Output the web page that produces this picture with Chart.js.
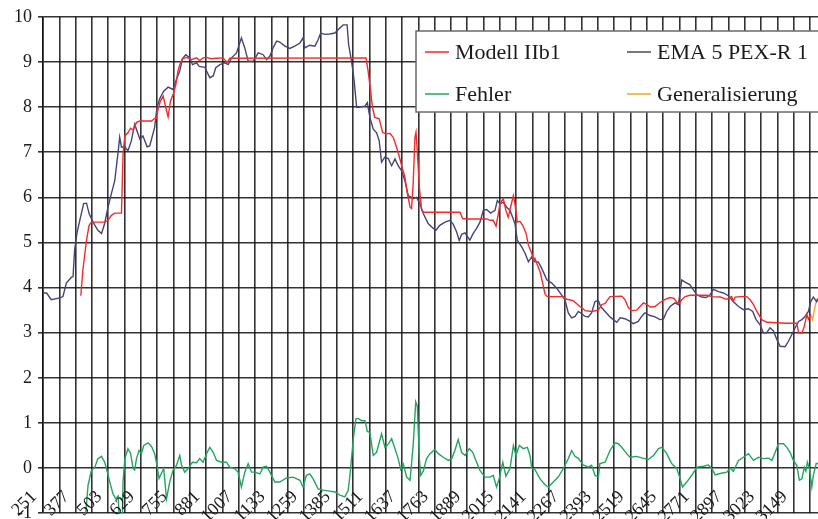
<!DOCTYPE html>
<html>
<head>
<meta charset="utf-8">
<script src="https://cdn.jsdelivr.net/npm/chart.js@4/dist/chart.umd.min.js"></script>
<style>
  html, body { margin: 0; padding: 0; background: #fff; overflow: hidden; }
  canvas { display: block; }
</style>
</head>
<body>
<canvas id="chart_ema" width="818" height="530"></canvas>
<script>
// Category labels on the x axis (every second grid line)
let xLabels = ['251', '377', '503', '629', '755', '881', '1007', '1133', '1259', '1385', '1511', '1637',
  '1763', '1889', '2015', '2141', '2267', '2393', '2519', '2645', '2771', '2897', '3023', '3149'];

// EMA 5 PEX-R 1
let emaX = [251, 265, 283, 316, 328, 341, 361, 367, 373, 382, 393, 399, 408, 419, 429, 444, 463, 477, 489, 502,
  515, 528, 541, 547, 554, 567, 579, 592, 605, 614, 625, 637, 653, 663, 682, 691, 702, 717, 734, 753,
  766, 779, 789, 802, 818, 828, 844, 854, 876, 895, 908, 918, 934, 953, 966, 979, 998, 1017, 1030, 1043,
  1062, 1082, 1101, 1114, 1127, 1139, 1153, 1165, 1185, 1204, 1223, 1243, 1255, 1262, 1281, 1301, 1313, 1323, 1339, 1358,
  1378, 1397, 1410, 1425, 1431, 1442, 1451, 1462, 1474, 1494, 1503, 1513, 1526, 1539, 1549, 1558, 1571, 1584, 1597, 1610,
  1622, 1635, 1648, 1661, 1680, 1693, 1706, 1719, 1738, 1758, 1768, 1783, 1803, 1822, 1835, 1848, 1858, 1867, 1880, 1899,
  1912, 1925, 1938, 1951, 1964, 1979, 1996, 2005, 2015, 2028, 2041, 2054, 2073, 2082, 2099, 2112, 2125, 2138, 2150, 2163,
  2176, 2196, 2215, 2234, 2253, 2266, 2279, 2292, 2305, 2318, 2331, 2344, 2356, 2369, 2382, 2395, 2404, 2421, 2440, 2466,
  2479, 2498, 2517, 2530, 2549, 2562, 2575, 2595, 2614, 2633, 2646, 2659, 2672, 2691, 2704, 2717, 2730, 2749, 2762, 2775,
  2794, 2811, 2826, 2839, 2859, 2878, 2897, 2916, 2936, 2955, 2974, 2991, 3004, 3019, 3032, 3045, 3058, 3071, 3084, 3097,
  3116, 3129, 3142, 3155, 3168, 3181, 3193, 3206, 3215, 3225, 3238, 3243];
let emaY = [3.88, 3.88, 3.73, 3.77, 3.80, 4.10, 4.23, 4.24, 4.83, 5.20, 5.49, 5.64, 5.86, 5.87, 5.64, 5.45, 5.27, 5.20, 5.42, 5.78,
  6.08, 6.37, 7.00, 7.33, 7.11, 7.12, 7.03, 7.25, 7.62, 7.47, 7.29, 7.36, 7.12, 7.14, 7.55, 7.99, 8.19, 8.35, 8.44, 8.39,
  8.61, 8.80, 9.07, 9.16, 9.09, 8.94, 8.98, 8.90, 8.88, 8.65, 8.69, 8.87, 8.94, 8.98, 8.94, 9.09, 9.20, 9.53, 9.31, 9.02,
  9.01, 9.20, 9.16, 9.05, 9.13, 9.31, 9.46, 9.44, 9.35, 9.30, 9.35, 9.42, 9.53, 9.31, 9.37, 9.35, 9.49, 9.64, 9.61, 9.62,
  9.64, 9.75, 9.82, 9.82, 9.38, 9.02, 8.65, 7.99, 8.00, 8.02, 8.10, 7.77, 7.51, 7.43, 7.25, 6.78, 6.89, 6.86, 6.70, 6.85,
  6.70, 6.59, 6.37, 6.04, 5.97, 6.00, 5.86, 5.64, 5.42, 5.31, 5.27, 5.38, 5.45, 5.49, 5.40, 5.23, 5.04, 5.18, 5.21, 5.05,
  5.20, 5.31, 5.45, 5.71, 5.73, 5.65, 5.71, 5.93, 5.86, 5.89, 5.78, 5.71, 5.42, 5.05, 4.90, 4.76, 4.57, 4.68, 4.57, 4.57,
  4.43, 4.17, 4.10, 3.99, 3.84, 3.73, 3.44, 3.33, 3.36, 3.47, 3.42, 3.36, 3.35, 3.44, 3.69, 3.71, 3.58, 3.47, 3.35, 3.23,
  3.33, 3.31, 3.25, 3.20, 3.25, 3.36, 3.44, 3.38, 3.35, 3.29, 3.30, 3.47, 3.58, 3.66, 3.62, 4.17, 4.12, 4.06, 3.95, 3.84,
  3.79, 3.78, 3.84, 3.96, 3.91, 3.88, 3.82, 3.69, 3.58, 3.51, 3.53, 3.47, 3.29, 3.18, 3.00, 3.00, 3.11, 3.04, 2.85, 2.70,
  2.69, 2.81, 2.96, 3.11, 3.25, 3.29, 3.36, 3.47, 3.69, 3.79, 3.69, 3.75];

// Modell IIb1
let modelX = [397, 405, 419, 429, 438, 489, 502, 515, 528, 554, 560, 567, 579, 589, 599, 612, 625, 670, 682, 689,
  695, 704, 715, 725, 734, 743, 753, 764, 772, 779, 789, 805, 824, 844, 856, 869, 882, 901, 921, 946,
  962, 972, 1498, 1506, 1516, 1523, 1532, 1549, 1562, 1575, 1590, 1603, 1616, 1629, 1639, 1648, 1657, 1668, 1674, 1680,
  1687, 1691, 1696, 1704, 1713, 1722, 1861, 1871, 1887, 1964, 1977, 1989, 2000, 2009, 2015, 2028, 2038, 2047, 2056, 2067,
  2073, 2082, 2092, 2103, 2116, 2125, 2138, 2144, 2150, 2157, 2170, 2180, 2189, 2198, 2260, 2273, 2298, 2324, 2344, 2369,
  2395, 2408, 2421, 2440, 2485, 2498, 2511, 2524, 2543, 2556, 2569, 2582, 2595, 2614, 2633, 2653, 2672, 2687, 2698, 2708,
  2717, 2730, 2749, 2814, 2833, 2865, 2891, 2910, 2916, 2923, 2942, 2968, 2981, 2994, 3007, 3026, 3045, 3123, 3161, 3168,
  3181, 3190, 3200, 3206, 3215];
let modelY = [3.82, 4.39, 5.05, 5.38, 5.45, 5.45, 5.49, 5.60, 5.65, 5.65, 6.96, 7.36, 7.43, 7.53, 7.49, 7.66, 7.69, 7.69, 7.75, 7.75,
  7.95, 8.13, 8.24, 7.99, 7.78, 8.13, 8.27, 8.50, 8.80, 8.94, 9.07, 9.10, 9.05, 9.09, 9.03, 9.09, 9.10, 9.07, 9.08, 9.09,
  8.99, 9.08, 9.09, 8.80, 8.35, 7.99, 7.77, 7.74, 7.44, 7.40, 7.42, 7.33, 7.11, 6.85, 6.63, 6.45, 6.11, 5.78, 5.75, 6.30,
  7.33, 7.44, 7.03, 6.22, 5.71, 5.67, 5.67, 5.53, 5.52, 5.52, 5.49, 5.49, 5.36, 5.64, 5.86, 5.97, 5.71, 5.56, 5.78, 6.04,
  5.86, 5.45, 5.47, 5.38, 5.20, 4.94, 4.76, 4.61, 4.65, 4.54, 4.35, 4.10, 3.86, 3.80, 3.80, 3.74, 3.71, 3.58, 3.49, 3.47,
  3.50, 3.62, 3.65, 3.80, 3.81, 3.73, 3.55, 3.49, 3.50, 3.58, 3.66, 3.63, 3.57, 3.58, 3.67, 3.74, 3.78, 3.76, 3.67, 3.65,
  3.73, 3.80, 3.83, 3.83, 3.80, 3.79, 3.74, 3.80, 3.69, 3.79, 3.80, 3.80, 3.73, 3.62, 3.47, 3.29, 3.23, 3.21, 3.21, 3.00,
  2.99, 3.14, 3.40, 3.30, 3.40];

// Fehler
let errX = [397, 416, 425, 438, 451, 463, 477, 489, 496, 509, 521, 532, 541, 548, 556, 560, 567, 579, 589, 599,
  605, 612, 622, 631, 640, 657, 670, 682, 691, 699, 708, 717, 728, 740, 753, 766, 779, 786, 798, 811,
  828, 844, 856, 869, 885, 895, 908, 921, 940, 959, 972, 991, 1004, 1017, 1030, 1043, 1056, 1069, 1088, 1101,
  1114, 1127, 1146, 1165, 1191, 1217, 1243, 1255, 1268, 1281, 1294, 1313, 1333, 1358, 1378, 1397, 1416, 1429, 1436, 1442,
  1449, 1459, 1468, 1481, 1494, 1503, 1513, 1526, 1539, 1558, 1571, 1584, 1597, 1610, 1622, 1632, 1642, 1655, 1668, 1680,
  1690, 1696, 1704, 1709, 1719, 1732, 1745, 1764, 1777, 1796, 1816, 1829, 1841, 1854, 1867, 1880, 1897, 1910, 1925, 1938,
  1957, 1977, 1989, 2002, 2012, 2026, 2038, 2054, 2067, 2077, 2090, 2105, 2121, 2131, 2138, 2150, 2170, 2189, 2202, 2221,
  2240, 2260, 2279, 2292, 2305, 2318, 2337, 2356, 2369, 2382, 2395, 2401, 2421, 2440, 2459, 2472, 2485, 2505, 2517, 2543,
  2566, 2588, 2608, 2627, 2640, 2659, 2678, 2698, 2711, 2720, 2736, 2756, 2775, 2801, 2820, 2833, 2846, 2865, 2891, 2904,
  2916, 2936, 2955, 2974, 2994, 3013, 3032, 3052, 3065, 3078, 3090, 3110, 3123, 3135, 3148, 3161, 3171, 3181, 3190, 3196,
  3202, 3210, 3219, 3225, 3236, 3243];
let errY = [-1.6, -1.0, -0.38, -0.05, 0.02, 0.21, 0.26, 0.13, -0.01, -0.31, -0.57, -0.68, -0.62, -1.4, -1.5, -0.3, 0.21, 0.43, 0.33, -0.01,
  -0.04, 0.21, 0.39, 0.32, 0.50, 0.56, 0.48, 0.32, 0.06, -0.23, -0.12, -0.01, -0.68, -0.31, -0.05, 0.06, 0.28, 0.06, -0.09, -0.01,
  0.13, 0.12, 0.21, 0.13, 0.35, 0.46, 0.35, 0.17, 0.13, 0.13, 0.02, -0.01, -0.09, -0.42, -0.09, 0.10, -0.09, -0.09, -0.13, 0.02,
  0.04, -0.09, -0.31, -0.31, -0.22, -0.20, -0.27, -0.42, -0.16, -0.13, -0.24, -0.46, -0.49, -0.51, -0.53, -0.60, -0.64, -0.50, -0.16, 0.21,
  0.65, 1.09, 1.10, 1.05, 1.05, 0.81, 0.79, 0.28, 0.35, 0.76, 0.46, 0.53, 0.65, 0.43, 0.21, -0.03, 0.09, -0.20, -0.27, 0.50,
  1.47, 1.38, 0.21, -0.16, -0.07, 0.21, 0.32, 0.41, 0.32, 0.24, 0.17, 0.21, 0.39, 0.63, 0.35, 0.28, 0.43, 0.35, 0.13, -0.05,
  -0.20, -0.20, -0.16, -0.42, -0.24, 0.13, -0.18, -0.01, 0.50, 0.28, 0.50, 0.43, 0.46, 0.28, 0.00, -0.03, -0.24, -0.37, -0.42, -0.31,
  -0.20, -0.01, 0.21, 0.39, 0.26, 0.21, 0.07, 0.02, 0.06, -0.16, -0.20, 0.10, 0.13, 0.39, 0.56, 0.54, 0.46, 0.32, 0.24, 0.26,
  0.22, 0.19, 0.28, 0.43, 0.46, 0.32, 0.10, -0.01, -0.24, -0.42, -0.31, -0.16, 0.02, 0.04, 0.07, -0.01, -0.15, -0.12, -0.09, 0.00,
  -0.07, 0.17, 0.24, 0.32, 0.17, 0.24, 0.21, 0.22, 0.17, 0.35, 0.54, 0.54, 0.46, 0.35, 0.17, 0.06, -0.27, -0.24, 0.02, -0.07,
  0.13, -0.01, -0.42, -0.16, 0.10, 0.10];

// Generalisierung
let genX = [3215, 3222, 3229, 3238, 3243];
let genY = [3.40, 3.29, 3.51, 3.73, 3.75];

const serif = '"Liberation Serif", "Times New Roman", serif';
const gridColor = 'rgba(15, 15, 15, 0.85)';

// zip x and y lists into point objects
const pts = (xs, ys) => xs.map((x, i) => ({ x: x, y: ys[i] }));

function lineSet(label, xs, ys, color) {
  return {
    label: label,
    data: pts(xs, ys),
    borderColor: color,
    backgroundColor: color,
    borderWidth: 1.4,
    pointRadius: 0,
    fill: false,
    tension: 0
  };
}

// Rotated category labels, drawn inside the bottom strip of the plot
const xLabelPlugin = {
  id: 'xLabelPlugin',
  afterDraw(chart) {
    let ctx = chart.ctx;
    let xs = chart.scales.x;
    ctx.save();
    ctx.font = '18px ' + serif;
    ctx.fillStyle = '#1a1a1a';
    ctx.textAlign = 'right';
    ctx.textBaseline = 'middle';
    xLabels.forEach((lab) => {
      let px = xs.getPixelForValue(Number(lab));
      ctx.save();
      ctx.translate(px - 9, 494);
      ctx.rotate(-Math.PI / 4);
      ctx.fillText(lab, 0, 0);
      ctx.restore();
    });
    ctx.restore();
  }
};

// Two-column legend box in the upper right corner
const legendBoxPlugin = {
  id: 'legendBoxPlugin',
  afterDraw(chart) {
    let ctx = chart.ctx;
    let sets = chart.data.datasets;
    let order = [0, 1, 2, 3];
    let cols = [425, 627];
    let rows = [52, 94];
    ctx.save();
    ctx.fillStyle = '#fff';
    ctx.strokeStyle = '#6a6a6a';
    ctx.lineWidth = 1.5;
    ctx.fillRect(416, 31, 420, 81);
    ctx.strokeRect(416, 31, 420, 81);
    ctx.font = '22px ' + serif;
    ctx.textBaseline = 'middle';
    ctx.textAlign = 'left';
    order.forEach((di, i) => {
      let ds = sets[di];
      let cx = cols[i % 2];
      let cy = rows[Math.floor(i / 2)];
      ctx.strokeStyle = ds.borderColor;
      ctx.lineWidth = 1.5;
      ctx.beginPath();
      ctx.moveTo(cx, cy);
      ctx.lineTo(cx + 24, cy);
      ctx.stroke();
      ctx.fillStyle = '#1a1a1a';
      ctx.fillText(ds.label, cx + 30, cy + 1);
    });
    ctx.restore();
  }
};

window.onload = () => {
  let ctx = document.getElementById('chart_ema').getContext('2d');

  new Chart(ctx, {
    type: 'line',
    data: {
      datasets: [
        lineSet('Modell IIb1', modelX, modelY, '#f52a2a'),
        lineSet('EMA 5 PEX-R 1', emaX, emaY, '#45457a'),
        lineSet('Fehler', errX, errY, '#22a560'),
        lineSet('Generalisierung', genX, genY, '#f5a623')
      ]
    },
    options: {
      responsive: false,
      animation: false,
      layout: { padding: { top: 15, right: 0, bottom: 15.5, left: 0 } },
      plugins: {
        legend: { display: false },
        tooltip: { enabled: false }
      },
      scales: {
        x: {
          type: 'linear',
          min: 251,
          max: 3243,
          // a vertical grid line every 63 categories
          afterBuildTicks: (scale) => {
            let t = [];
            for (let v = 251; v <= 3243; v += 63) t.push({ value: v });
            scale.ticks = t;
          },
          ticks: { display: false },
          grid: { color: gridColor, lineWidth: 1.6, drawTicks: false },
          border: { display: false }
        },
        y: {
          min: -1,
          max: 10,
          afterFit: (scale) => { scale.width = 43; },
          ticks: {
            stepSize: 1,
            padding: 6,
            color: '#1a1a1a',
            font: { family: serif, size: 18 }
          },
          grid: { color: gridColor, lineWidth: 1.6, tickLength: 5 },
          border: { color: gridColor, width: 1.6 }
        }
      }
    },
    plugins: [xLabelPlugin, legendBoxPlugin]
  });
};
</script>
</body>
</html>
